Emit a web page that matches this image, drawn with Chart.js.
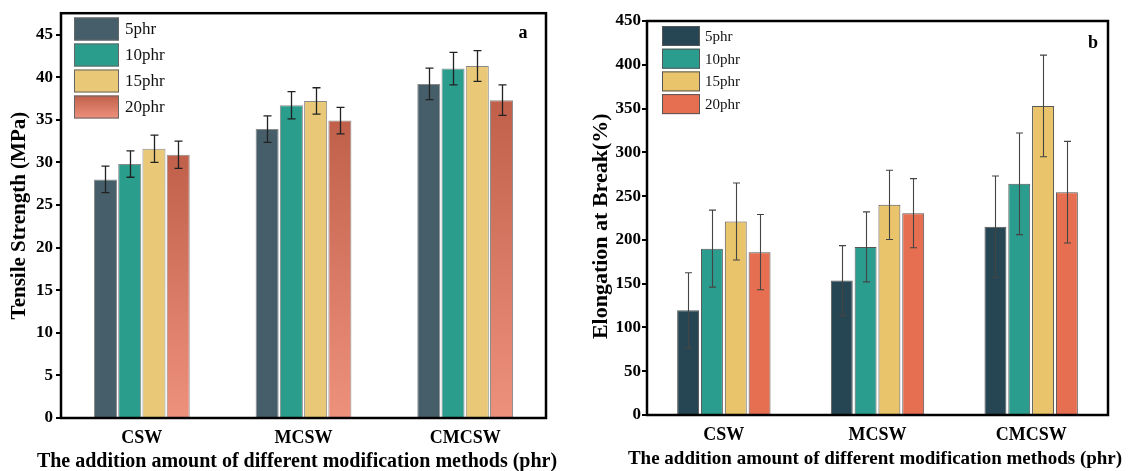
<!DOCTYPE html>
<html>
<head>
<meta charset="utf-8">
<script src="https://cdn.jsdelivr.net/npm/chart.js@4.4.0/dist/chart.umd.min.js"></script>
<style>
body { margin: 0; background: #fff; }
canvas { position: absolute; top: 0; }
</style>
</head>
<body>
<canvas id="chartA" width="566" height="471" style="left:0"></canvas>
<canvas id="chartB" width="566" height="471" style="left:566px"></canvas>
<script>
const categories = ['CSW', 'MCSW', 'CMCSW'];
const seriesNames = ['5phr', '10phr', '15phr', '20phr'];

// (a) tensile strength, MPa
const tensile5 = [28.0, 33.9, 39.2];
const tensile10 = [29.8, 36.7, 41.0];
const tensile15 = [31.6, 37.2, 41.3];
const tensile20 = [30.9, 34.9, 37.3];
const tensileErr5 = [1.55, 1.55, 1.85];
const tensileErr10 = [1.55, 1.6, 1.9];
const tensileErr15 = [1.6, 1.55, 1.8];
const tensileErr20 = [1.6, 1.55, 1.8];

// (b) elongation at break, %
const elong5 = [119.5, 153.5, 215];
const elong10 = [190, 192, 264];
const elong15 = [221, 240, 353];
const elong20 = [186, 230.5, 254.5];
const elongErr5 = [43, 40, 58];
const elongErr10 = [44, 40, 58];
const elongErr15 = [44, 39.5, 58];
const elongErr20 = [43, 39.5, 58];

const serif = 'Liberation Serif';
const xTitle = 'The addition amount of different modification methods (phr)';

function barGradient(top, bottom) {
    return (c) => {
        const chart = c.chart;
        if (!chart.chartArea || c.type !== 'data') return top;
        const y = chart.scales.y;
        const y0 = y.getPixelForValue(c.raw);
        const y1 = y.getPixelForValue(0);
        const g = chart.ctx.createLinearGradient(0, y0, 0, y1);
        g.addColorStop(0, top);
        g.addColorStop(1, bottom);
        return g;
    };
}

const extras = {
    id: 'extras',
    afterDatasetsDraw(chart, args, opts) {
        const ctx = chart.ctx;
        const y = chart.scales.y;
        ctx.save();
        ctx.strokeStyle = opts.errColor;
        ctx.lineWidth = opts.errWidth;
        chart.data.datasets.forEach((ds, i) => {
            chart.getDatasetMeta(i).data.forEach((bar, j) => {
                const v = ds.data[j], e = ds.errors[j];
                const yt = y.getPixelForValue(v + e);
                const yb = y.getPixelForValue(v - e);
                const x = Math.round(bar.x) + 0.5;
                ctx.beginPath();
                ctx.moveTo(x, yt); ctx.lineTo(x, yb);
                ctx.moveTo(x - opts.cap, yt); ctx.lineTo(x + opts.cap, yt);
                ctx.moveTo(x - opts.cap, yb); ctx.lineTo(x + opts.cap, yb);
                ctx.stroke();
            });
        });
        ctx.restore();
    },
    afterDraw(chart, args, opts) {
        const ctx = chart.ctx;
        const a = chart.chartArea;
        ctx.save();
        // frame
        ctx.strokeStyle = '#000';
        ctx.lineWidth = opts.frameWidth;
        ctx.strokeRect(a.left, a.top, a.right - a.left, a.bottom - a.top);
        // legend
        const L = opts.legend;
        ctx.font = L.size + 'px "' + serif + '"';
        ctx.textBaseline = 'middle';
        ctx.textAlign = 'left';
        chart.data.datasets.forEach((ds, i) => {
            const cy = L.y + i * L.step;
            const top = cy - L.h / 2;
            let fill = ds.legendColor;
            if (ds.legendBottom) {
                fill = ctx.createLinearGradient(0, top, 0, top + L.h);
                fill.addColorStop(0, ds.legendColor);
                fill.addColorStop(1, ds.legendBottom);
            }
            ctx.fillStyle = fill;
            ctx.fillRect(L.x, top, L.w, L.h);
            ctx.strokeStyle = L.border;
            ctx.lineWidth = 1;
            ctx.strokeRect(L.x + 0.5, top + 0.5, L.w - 1, L.h - 1);
            ctx.fillStyle = '#111';
            ctx.fillText(ds.label, L.x + L.w + L.gap, cy + 1);
        });
        // panel letter
        ctx.font = 'bold 18px "' + serif + '"';
        ctx.fillStyle = '#000';
        ctx.textAlign = 'center';
        ctx.fillText(opts.letter, opts.letterX, opts.letterY);
        // x axis title (drawn here so it is not squeezed to the axis width)
        ctx.font = 'bold ' + opts.xTitleSize + 'px "' + serif + '"';
        ctx.fillText(opts.xTitle, opts.xTitleX, opts.xTitleY);
        ctx.restore();
    }
};

function makePanel(id, cfg) {
    const datasets = cfg.values.map((vals, i) => ({
        label: seriesNames[i],
        data: vals,
        errors: cfg.errors[i],
        backgroundColor: cfg.fills[i],
        legendColor: cfg.legendColors[i],
        legendBottom: cfg.legendBottoms[i],
        borderColor: cfg.border,
        borderWidth: 1,
        categoryPercentage: cfg.catPct,
        barPercentage: cfg.barPct
    }));
    const tickFont = { family: serif, size: 17, weight: 'bold' };
    return new Chart(document.getElementById(id), {
        type: 'bar',
        data: { labels: categories, datasets: datasets },
        plugins: [extras],
        options: {
            responsive: false,
            animation: false,
            devicePixelRatio: 1,
            layout: { padding: { left: 0, top: cfg.area.top, right: 566 - cfg.area.right, bottom: 0 } },
            plugins: {
                legend: { display: false },
                tooltip: { enabled: false },
                extras: {
                    errColor: cfg.errColor, errWidth: cfg.errWidth, cap: cfg.cap,
                    frameWidth: 2.5,
                    legend: cfg.legend,
                    letter: cfg.letter, letterX: cfg.letterX, letterY: cfg.letterY,
                    xTitle: xTitle, xTitleSize: cfg.xTitleSize, xTitleX: cfg.xTitleX, xTitleY: cfg.xTitleY
                }
            },
            scales: {
                x: {
                    afterFit(s) { s.height = 471 - cfg.area.bottom; },
                    border: { display: false },
                    grid: { display: false, drawTicks: false },
                    ticks: { color: '#000', padding: cfg.xTickPad, font: { family: serif, size: 18, weight: 'bold' } }
                },
                y: {
                    min: 0, max: cfg.yMax,
                    afterFit(s) { s.width = cfg.area.left; },
                    border: { display: false },
                    grid: { drawOnChartArea: false, drawTicks: true, tickLength: 5, color: '#000', lineWidth: 2 },
                    ticks: { stepSize: cfg.yStep, includeBounds: false, color: '#000', padding: cfg.yTickPad, font: tickFont },
                    title: {
                        display: true, text: cfg.yTitle, color: '#000',
                        font: { family: serif, size: cfg.yTitleSize, weight: 'bold', lineHeight: 1 },
                        padding: { top: cfg.yTitlePad, bottom: 0 }
                    }
                }
            }
        }
    });
}

makePanel('chartA', {
    values: [tensile5, tensile10, tensile15, tensile20],
    errors: [tensileErr5, tensileErr10, tensileErr15, tensileErr20],
    fills: ['#455e69', '#2a9d8c', '#e9c877', barGradient('#c0604b', '#ee917c')],
    legendColors: ['#455e69', '#2a9d8c', '#e9c877', '#c0604b'],
    legendBottoms: [null, null, null, '#ee917c'],
    border: '#8a8a8a',
    catPct: 0.6, barPct: 0.95,
    area: { left: 61, top: 10, right: 546, bottom: 418 },
    yMax: 47.5, yStep: 5,
    yTitle: 'Tensile Strength (MPa)', yTitleSize: 21,
    xTitleSize: 20, xTitleX: 297, xTitleY: 462,
    yTitlePad: 9, yTickPad: 3, xTickPad: 10,
    errColor: '#222', errWidth: 1.3, cap: 4,
    legend: { x: 74, y: 29, step: 26, w: 45, h: 23, gap: 6, size: 17, border: '#666' },
    letter: 'a', letterX: 523, letterY: 33
});

makePanel('chartB', {
    values: [elong5, elong10, elong15, elong20],
    errors: [elongErr5, elongErr10, elongErr15, elongErr20],
    fills: ['#264653', '#2a9d8f', '#e9c46a', '#e76f51'],
    legendColors: ['#264653', '#2a9d8f', '#e9c46a', '#e76f51'],
    legendBottoms: [null, null, null, null],
    border: '#555',
    catPct: 0.62, barPct: 0.92,
    area: { left: 81, top: 21, right: 542, bottom: 415 },
    yMax: 450, yStep: 50,
    yTitle: 'Elongation at Break(%)   ', yTitleSize: 22,
    xTitleSize: 19, xTitleX: 309, xTitleY: 459,
    yTitlePad: 24, yTickPad: 1, xTickPad: 10,
    errColor: '#444', errWidth: 1.1, cap: 3.5,
    legend: { x: 96, y: 36, step: 22.7, w: 38, h: 20, gap: 5, size: 15, border: '#555' },
    letter: 'b', letterX: 527, letterY: 43
});
</script>
</body>
</html>
